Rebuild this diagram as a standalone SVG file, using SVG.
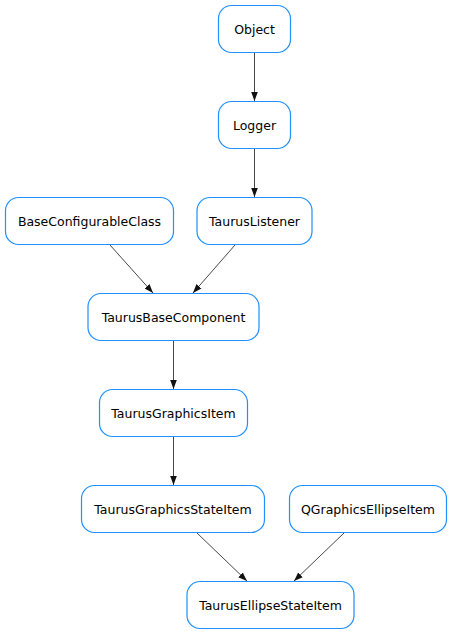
<svg xmlns="http://www.w3.org/2000/svg" width="452" height="635" viewBox="0 0 452 635">
<defs>
<style>
.n rect{fill:#fff;stroke:#1e90ff;stroke-width:1.2}
.n text{font-family:"DejaVu Sans",sans-serif;font-size:12.5px;fill:#000;text-anchor:middle;dominant-baseline:central}
.e line{stroke:#333;stroke-width:0.9;marker-end:url(#ah)}
</style>
<marker id="ah" markerWidth="10" markerHeight="8" refX="9" refY="4" orient="auto" markerUnits="userSpaceOnUse">
<path d="M0,0.7 L9,4 L0,7.3 z" fill="#111"/>
</marker>
</defs>
<rect width="452" height="635" fill="#fff"/>
<g id="edges" class="e">
<line x1="254.5" y1="53" x2="254.5" y2="101"/>
<line x1="254.5" y1="149" x2="254.5" y2="197"/>
<line x1="110" y1="245" x2="153" y2="293"/>
<line x1="235" y1="245" x2="193" y2="293"/>
<line x1="173.5" y1="341" x2="173.5" y2="389"/>
<line x1="173.5" y1="437" x2="173.5" y2="485"/>
<line x1="197" y1="533" x2="247" y2="581"/>
<line x1="344" y1="533" x2="294" y2="581"/>
</g>
<g id="Object" class="n"><rect x="218.5" y="5.5" width="72" height="47" rx="13"/><text x="254.5" y="29">Object</text></g>
<g id="Logger" class="n"><rect x="218.5" y="101.5" width="72" height="47" rx="13"/><text x="254.5" y="125">Logger</text></g>
<g id="BaseConfigurableClass" class="n"><rect x="5.5" y="197.5" width="168" height="47" rx="13"/><text x="89.5" y="221">BaseConfigurableClass</text></g>
<g id="TaurusListener" class="n"><rect x="197" y="197.5" width="115" height="47" rx="13"/><text x="254.5" y="221">TaurusListener</text></g>
<g id="TaurusBaseComponent" class="n"><rect x="88" y="293.5" width="171" height="47" rx="13"/><text x="173.5" y="317">TaurusBaseComponent</text></g>
<g id="TaurusGraphicsItem" class="n"><rect x="99.5" y="389.5" width="148" height="47" rx="13"/><text x="173.5" y="413">TaurusGraphicsItem</text></g>
<g id="TaurusGraphicsStateItem" class="n"><rect x="81.5" y="485.5" width="183" height="47" rx="13"/><text x="173" y="509">TaurusGraphicsStateItem</text></g>
<g id="QGraphicsEllipseItem" class="n"><rect x="289.5" y="485.5" width="157" height="47" rx="13"/><text x="368" y="509">QGraphicsEllipseItem</text></g>
<g id="TaurusEllipseStateItem" class="n"><rect x="187" y="581.5" width="167" height="47" rx="13"/><text x="270.5" y="605">TaurusEllipseStateItem</text></g>
</svg>
